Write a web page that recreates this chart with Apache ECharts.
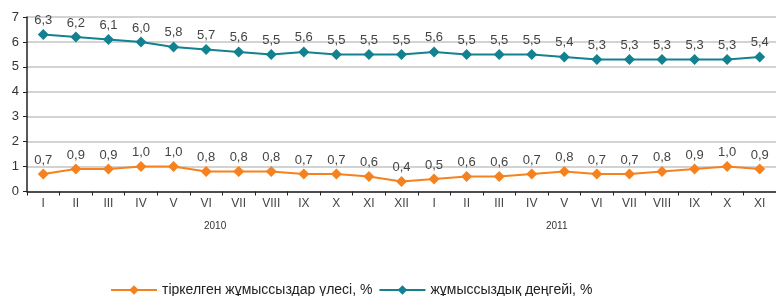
<!DOCTYPE html>
<html>
<head>
<meta charset="utf-8">
<script src="https://cdn.jsdelivr.net/npm/echarts@6/dist/echarts.min.js"></script>
<style>
  html, body { margin: 0; padding: 0; background: #fff; }
  #main { width: 776px; height: 296px; }
</style>
</head>
<body>
<div id="main"></div>
<script>
// months 2010 (I-XII) + 2011 (I-XI)
const months = ['I','II','III','IV','V','VI','VII','VIII','IX','X','XI','XII',
                'I','II','III','IV','V','VI','VII','VIII','IX','X','XI'];
const years = ['2010', '2011'];
const unemployment = [6.3, 6.2, 6.1, 6.0, 5.8, 5.7, 5.6, 5.5, 5.6, 5.5, 5.5, 5.5,
                      5.6, 5.5, 5.5, 5.5, 5.4, 5.3, 5.3, 5.3, 5.3, 5.3, 5.4];
const registered = [0.7, 0.9, 0.9, 1.0, 1.0, 0.8, 0.8, 0.8, 0.7, 0.7, 0.6, 0.4,
                    0.5, 0.6, 0.6, 0.7, 0.8, 0.7, 0.7, 0.8, 0.9, 1.0, 0.9];
const yTicks = [0, 1, 2, 3, 4, 5, 6, 7];

const FONT = "'Liberation Sans', Arial, sans-serif";
const TEAL = '#138290';
const ORANGE = '#f5821f';

const fmt = p => p.value.toFixed(1).replace('.', ',');

let chart = echarts.init(document.getElementById('main'));

let option = {
  animation: false,
  textStyle: { fontFamily: FONT },
  grid: { left: 27, right: -7, top: 17, bottom: 104.5 },
  xAxis: {
    type: 'category',
    data: months,
    boundaryGap: true,
    axisLine: { lineStyle: { color: '#222', width: 1.5 } },
    axisTick: { show: true, length: 4, interval: 0, lineStyle: { color: '#222' } },
    axisLabel: { color: '#444', fontSize: 12, margin: 6, interval: 0, fontFamily: FONT }
  },
  yAxis: {
    type: 'value',
    min: yTicks[0],
    max: yTicks[yTicks.length - 1],
    interval: 1,
    axisLine: { show: true, lineStyle: { color: '#222', width: 1.5 } },
    axisTick: { show: true, length: 4, lineStyle: { color: '#222' } },
    axisLabel: { color: '#333', fontSize: 13, margin: 8, fontFamily: FONT },
    splitLine: { lineStyle: { color: '#c4c4c4', width: 1.5 } }
  },
  legend: {
    bottom: -1,
    left: 110,
    padding: 0,
    itemWidth: 46,
    itemHeight: 12,
    itemGap: 6,
    textStyle: { fontSize: 14, color: '#222', fontFamily: FONT },
    data: ['тіркелген жұмыссыздар үлесі, %', 'жұмыссыздық деңгейі, %']
  },
  graphic: years.map((y, i) => ({
    type: 'text',
    left: i === 0 ? 204 : 546,
    top: 221,
    style: { text: y, fill: '#333', font: '10px ' + FONT }
  })),
  series: [
    {
      name: 'тіркелген жұмыссыздар үлесі, %',
      type: 'line',
      data: registered,
      symbol: 'diamond',
      symbolSize: 11,
      itemStyle: { color: ORANGE },
      lineStyle: { color: ORANGE, width: 2 },
      label: { show: true, position: 'top', distance: 2, color: '#444', fontSize: 13, formatter: fmt, fontFamily: FONT }
    },
    {
      name: 'жұмыссыздық деңгейі, %',
      type: 'line',
      data: unemployment,
      symbol: 'diamond',
      symbolSize: 11,
      itemStyle: { color: TEAL },
      lineStyle: { color: TEAL, width: 2 },
      label: { show: true, position: 'top', distance: 2, color: '#444', fontSize: 13, formatter: fmt, fontFamily: FONT }
    }
  ]
};

chart.setOption(option);
</script>
</body>
</html>
